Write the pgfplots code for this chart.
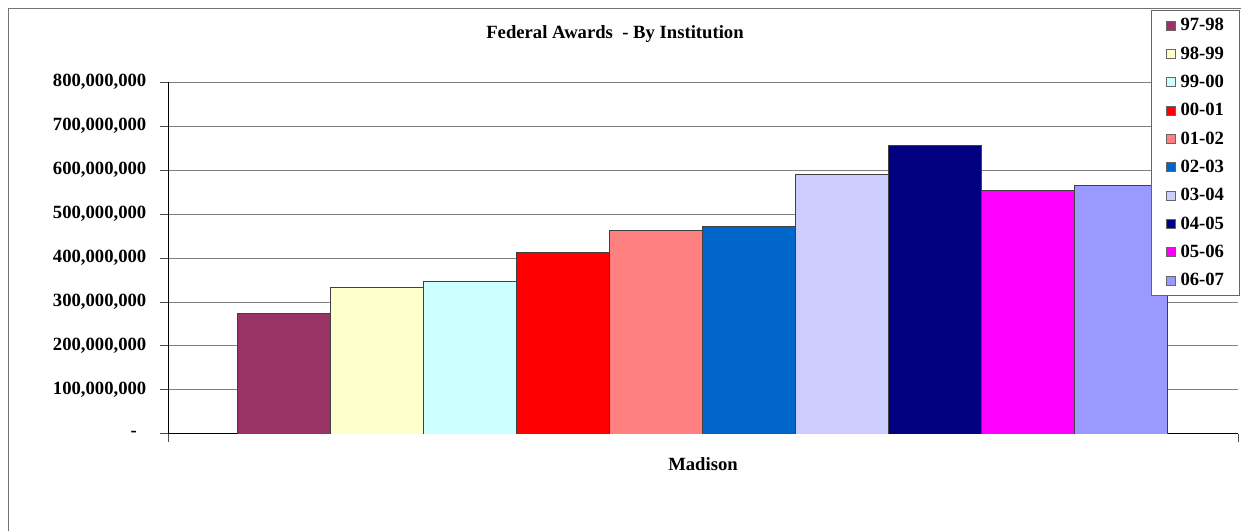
\documentclass[border=0pt]{standalone}
\usepackage{pgfplots}
\pgfplotsset{compat=1.18}
\usepackage{fontspec}
\setmainfont{Liberation Serif}
\definecolor{c1}{HTML}{993366}
\definecolor{c2}{HTML}{FFFFCC}
\definecolor{c3}{HTML}{CCFFFF}
\definecolor{c4}{HTML}{FF0000}
\definecolor{c5}{HTML}{FF8080}
\definecolor{c6}{HTML}{0066CC}
\definecolor{c7}{HTML}{CCCCFF}
\definecolor{c8}{HTML}{000080}
\definecolor{c9}{HTML}{FF00FF}
\definecolor{c10}{HTML}{9999FF}
\newcommand\ff{\bfseries\fontsize{14}{16.8}\selectfont}
\pgfplotsset{
  mybar/.style={fill=#1, draw=black!75, line width=0.6pt,
    legend image code/.code={
      \path[draw=none, fill=none] (0pt,-10.625pt) rectangle (21.75pt,10.625pt);
      \draw[fill=#1, draw=black!60, line width=0.5pt] (11.25pt,-3.375pt) rectangle (18pt,3.375pt);
    }},
}
\begin{document}
\begin{tikzpicture}[x=0.75pt,y=0.75pt]
\useasboundingbox (0,0) rectangle (1241,531);
\draw[black!55, line width=0.75pt] (8,-20) -- (8,522) -- (1260,522);
\node[font=\ff] at (615,497) {Federal Awards~ - By Institution};
\begin{axis}[
  at={(126pt,72.75pt)}, anchor=south west,
  scale only axis, width=802.5pt, height=264pt,
  xmin=0, xmax=1070, ymin=0, ymax=800000000,
  ybar, bar width=93, bar shift=0pt,
  axis x line*=bottom, axis y line*=left,
  axis line style={black, line width=0.75pt},
  ymajorgrids, grid style={black!50, line width=0.75pt},
  tick align=outside, major tick length=6pt,
  tick style={black!70, line width=0.75pt},
  scaled y ticks=false,
  ytick={0,100000000,200000000,300000000,400000000,500000000,600000000,700000000,800000000},
  yticklabels={{-\kern7pt},{100,000,000},{200,000,000},{300,000,000},{400,000,000},{500,000,000},{600,000,000},{700,000,000},{800,000,000}},
  yticklabel style={font=\ff, xshift=-6.75pt},
  xtick={0,1070}, xticklabels={,},
  extra x ticks={535}, extra x tick labels={Madison},
  extra x tick style={major tick length=0pt, xticklabel style={font=\ff, yshift=-14pt}},
  legend style={at={(rel axis cs:0.9187,1.2045)}, anchor=north west,
    draw=black!60, line width=0.75pt, font=\ff,
    inner xsep=0pt, inner ysep=0.6pt, row sep=0pt,
    nodes={inner sep=0pt}},
  legend cell align=left,
]
\addplot[mybar=c1] coordinates {(115.5,274000000)};
\addplot[mybar=c2] coordinates {(208.5,334000000)};
\addplot[mybar=c3] coordinates {(301.5,346000000)};
\addplot[mybar=c4] coordinates {(394.5,413000000)};
\addplot[mybar=c5] coordinates {(487.5,463000000)};
\addplot[mybar=c6] coordinates {(580.5,472000000)};
\addplot[mybar=c7] coordinates {(673.5,591000000)};
\addplot[mybar=c8] coordinates {(766.5,655000000)};
\addplot[mybar=c9] coordinates {(859.5,553000000)};
\addplot[mybar=c10] coordinates {(952.5,564000000)};
\legend{\makebox[44.25pt][l]{97-98},\makebox[44.25pt][l]{98-99},\makebox[44.25pt][l]{99-00},\makebox[44.25pt][l]{00-01},\makebox[44.25pt][l]{01-02},\makebox[44.25pt][l]{02-03},\makebox[44.25pt][l]{03-04},\makebox[44.25pt][l]{04-05},\makebox[44.25pt][l]{05-06},\makebox[44.25pt][l]{06-07}}
\end{axis}
\end{tikzpicture}
\end{document}
